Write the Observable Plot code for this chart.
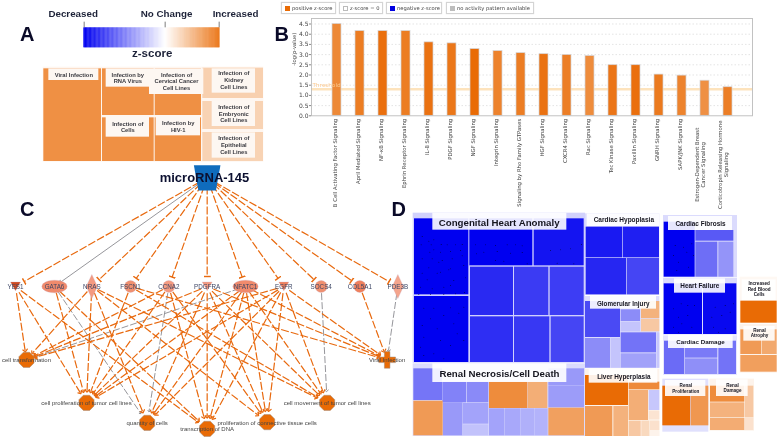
<!DOCTYPE html>
<html>
<head>
<meta charset="utf-8">
<script src="https://cdn.jsdelivr.net/npm/d3@7"></script>
<script src="https://cdn.jsdelivr.net/npm/@observablehq/plot@0.6"></script>
<style>
html,body{margin:0;padding:0;background:#fff;}
#page{position:relative;width:778px;height:438px;overflow:hidden;filter:blur(.3px);font-family:"Liberation Sans",Arial,sans-serif;}
#page svg{position:absolute;overflow:visible;background:none;}
.lg{position:absolute;top:2px;height:12px;border:1px solid #d4d4d4;box-shadow:0 0 1px #ddd;font:5.2px "DejaVu Sans",sans-serif;color:#444;line-height:10px;white-space:nowrap;box-sizing:border-box;}
.lg i{position:absolute;left:3px;top:2.5px;width:5px;height:5px;}
.lg span{position:absolute;top:0;}
</style>
</head>
<body>
<div id="page"></div>
<script>
const bold = '"Liberation Sans",Arial,sans-serif';
const zColor = {type:"linear", domain:[-1,0,1], range:["#0000f0","#ffffff","#e96b05"], clamp:true};

/* ---------- Panel A ---------- */
const zScoreStops = d3.range(-1,1,0.01);
const colorbarTicks = ["Decreased","No Change","Increased"];
const infectionCells = [
 [130,205,303,483,.75],[306,205,461,345,.75],[464,205,603,345,.75],
 [306,352,461,483,.75],[464,352,603,483,.75],
 [607,203,789,294,.32],[607,303,789,387,.3],[607,396,789,483,.3]
];
const infectionLabels = [
 ["Viral Infection",145,205,295,240,220,222],
 ["Infection by\nRNA Virus",317,205,447,260,382,232],
 ["Infection of\nCervical Cancer\nCell Lines",447,205,610,282,528,242],
 ["Infection of\nCells",317,350,447,410,382,379],
 ["Infection by\nHIV-1",467,348,600,406,533,377],
 ["Infection of\nKidney\nCell Lines",635,205,765,278,700,238],
 ["Infection of\nEmbryonic\nCell Lines",635,302,765,378,700,339],
 ["Infection of\nEpithelial\nCell Lines",635,397,765,473,700,433]
];

/* ---------- Panel B ---------- */
const pathways = ["B Cell Activating Factor Signaling","April Mediated Signaling","NF-\u03baB Signaling","Ephrin Receptor Signaling","IL-8 Signaling","PDGF Signaling","NGF Signaling","Integrin Signaling","Signaling by Rho Family GTPases","HGF Signaling","CXCR4 Signaling","Rac Signaling","Tec Kinase Signaling","Paxillin Signaling","GNRH Signaling","SAPK/JNK Signaling","Estrogen-Dependent Breast\nCancer Signaling","Corticotropin Releasing Hormone\nSignaling"];
const logP = [4.5,4.15,4.15,4.15,3.6,3.55,3.27,3.17,3.07,3.02,2.98,2.93,2.48,2.48,2.02,1.97,1.72,1.4];
const pathwayZ = [.8,.88,.97,.88,.95,.92,1,.84,.88,.95,.87,.78,.93,.97,.9,.84,.75,.87];
const legendLabels = ["positive z-score","z-score = 0","negative z-score","no activity pattern available"];
const legendColors = ["#e96b05","#ffffff","#0000e0","#bdbdbd"];
const legendLeft = [281,339,386,446], legendWidth = [55,44,56,88], legendText = [10,10,10,10];

/* ---------- Panel C ---------- */
const targets = [
 ["YES1",45,"tri","#d04a20"],["GATA6",162,"ell","#f08a6c"],["NRAS",274,"dia","#f49a80"],
 ["FSCN1",390,"cir","#f09070"],["CCNA2",505,"cir","#f49a80"],["PDGFRA",620,"tri","#f49a80"],
 ["NFATC1",735,"ell","#f08a6c"],["EGFR",850,"tri","#f0805c"],["SOCS4",962,"cir","#f09070"],
 ["COL5A1",1078,"cir","#f0805c"],["PDE3B",1192,"dia","#f4a48c"]
];
const targetRow = 363;
const outcomes = [
 ["T","cell transformation",78,583,78,"oct"],
 ["P","cell proliferation of tumor cell lines",258,712,258,"oct"],
 ["Q","quantity of cells",440,772,440,"oct"],
 ["D","transcription of DNA",620,790,620,"oct"],
 ["C","proliferation of connective tissue cells",800,770,800,"oct"],
 ["M","cell movement of tumor cell lines",980,712,980,"oct"],
 ["V","Viral Infection",1160,583,1160,"crs"]
];
const orangeLinks = {YES1:"TPD",GATA6:"PD",NRAS:"TPQCM",FSCN1:"PMV",CCNA2:"TPDC",PDGFRA:"TPQDCMV",NFATC1:"PQDCMV",EGFR:"TPQDCMV",COL5A1:"V"};
const greyLinks = {GATA6:"Q",CCNA2:"Q",NFATC1:"T",SOCS4:"M",PDE3B:"V"};
const hub = {name:"microRNA-145",x:620,y:37};

/* ---------- Panel D ---------- */
const congenital = [
 [42,85,205,313,-1],[42,318,205,516,-1],[208,85,397,226,-1],[401,85,551,226,-.92],
 [210,230,339,375,-.84],[342,230,445,375,-.77],[449,230,551,375,-.76],
 [210,379,339,516,-.82],[342,379,448,516,-.78],[452,379,551,516,-.73]
];
const renalNecrosis = [
 [40,535,126,630,-.54],[127,575,198,637,-.49],[200,575,265,637,-.46],[267,575,381,654,.78],
 [382,575,442,654,.55],[445,535,552,587,-.4],[445,588,552,652,-.39],[40,632,128,736,.68],
 [129,637,187,736,-.4],[188,639,265,701,-.36],[188,703,265,736,-.24],[267,655,313,736,-.36],
 [314,655,360,736,-.34],[361,655,402,736,-.31],[403,655,443,736,-.3],[445,653,552,736,.64]
];
const hypoplasia = [[557,110,667,202,-.9],[669,110,777,202,-.88],[557,204,678,313,-.85],[680,204,777,313,-.73]];
const glomerular = [
 [555,333,660,441,-.71],[662,358,720,393,-.45],[662,395,720,424,-.23],[723,333,778,384,.52],
 [723,386,778,424,.37],[555,444,630,533,-.45],[632,444,660,533,-.23],[662,427,768,487,-.55],
 [662,490,768,533,-.37],[770,427,778,533,-.22]
];
const liver = [
 [555,555,684,645,1],[686,575,778,598,.79],[555,648,637,738,.68],[640,648,684,738,.52],
 [686,600,744,690,.55],[746,600,778,660,-.22],[746,662,778,688,.18],[686,692,722,738,.37],
 [724,692,748,738,.26],[750,692,778,720,.2],[766,722,778,738,.08]
];
const fibrosis = [[791,95,884,260,-1],[886,120,1000,152,-.65],[886,155,952,260,-.57],[955,155,1000,260,-.42]];
const failure = [[791,280,906,432,-1],[909,280,1009,432,-.97]];
const damage = [[792,452,853,552,-.58],[855,474,952,503,-.52],[855,505,952,552,-.44],[955,452,1008,552,-.55]];
const redCells = [[1021,332,1130,398,1]];
const atrophy = [[1021,418,1084,492,.68],[1086,418,1130,492,.58],[1021,495,1130,545,.65]];
const proliferation = [[787,587,871,706,1],[873,587,925,706,.7]];
const renalDamage = [[930,587,1033,635,.78],[930,637,1033,682,.52],[930,684,1033,720,.56],[1035,587,1060,682,.37],[1035,684,1060,720,.2]];
const blocks = [
 [38,68,555,518,-.18],[38,520,555,738,-.14],[555,70,778,315,-.14],[555,318,778,534,-.14],
 [555,536,778,738,.08],[789,75,1011,262,-.14],[789,264,1011,434,-.14],[789,436,1011,555,-.1],
 [1019,260,1131,400,.05],[1019,402,1131,548,.08],[787,566,925,725,-.12],[928,566,1062,722,.08]
];
const titlesD = [
 ["Congenital Heart Anomaly",97,68,499,119,296,95,9.7],
 ["Renal Necrosis/Cell Death",97,520,499,576,297,548,9.7],
 ["Cardiac Hypoplasia",560,70,778,108,670,87,6.5],
 ["Glomerular Injury",570,316,768,356,668,338,6.3],
 ["Liver Hyperplasia",566,536,772,578,670,557,6.4],
 ["Cardiac Fibrosis",804,78,996,120,900,100,6.4],
 ["Heart Failure",822,265,975,308,898,286,6.4],
 ["Cardiac Damage",804,434,998,474,900,454,6.2],
 ["Increased\nRed Blood\nCells",1025,268,1127,330,1076,295,4.6],
 ["Renal\nAtrophy",1030,408,1124,452,1077,427,4.6],
 ["Renal\nProliferation",795,570,916,618,856,593,4.6],
 ["Renal\nDamage",948,568,1043,618,996,591,4.6]
];
const specks = [
 [65,138],[85,152],[100,148],[62,163],[92,163],[122,162],[140,163],[165,163],[185,162],[88,185],[100,178],[120,185],[150,183],[180,180],
 [65,205],[95,205],[125,210],[155,205],[185,196],[85,232],[115,215],[145,238],[190,225],[65,248],[110,248],[150,235],[80,268],[120,245],[160,270],[195,262],
 [60,290],[95,295],[130,290],[150,285],[55,312],[90,312],[130,312],[165,310],[192,306],
 [225,163],[255,163],[285,165],[320,163],[345,163],[365,166],[228,190],[250,185],[290,183],[330,188],[365,186],[285,210],[310,212],[380,220],
 [450,180],[480,178],[510,175],[543,162],[470,218],[520,220],
 [70,353],[100,353],[150,352],[190,350],[90,385],[130,375],[175,368],[65,405],[110,415],[160,400],[70,440],[120,450],[170,430],[60,470],[100,490],[150,465],[190,450],[70,495],[130,505],
 [824,165],[849,170],[874,160],[834,215],[819,195],[859,185],[879,195],[829,240],[864,230],
 [842,340],[819,355],[862,345],[882,345],[834,380],[862,375],[819,410],[844,400],[874,410],[834,425],
 [944,350],[974,345],[999,340],[934,380],[964,375],[989,365],[939,410],[974,415],[954,425]
];

/* ---------- helpers ---------- */
const page = document.getElementById("page");
function panel(w,h,left,top,marks){
  const p = Plot.plot({width:w/3,height:h/3,margin:0,
    x:{domain:[0,w],range:[0,w/3],axis:null},
    y:{domain:[0,h],range:[0,h/3],axis:null},
    color:zColor,marks});
  p.style.left=left+"px"; p.style.top=top+"px";
  page.appendChild(p); return p;
}
const cellMark = (rows,o={}) => Plot.rect(rows,{x1:d=>d[0],y1:d=>d[1],x2:d=>d[2],y2:d=>d[3],fill:d=>d[4],...o});
const polygon = pts => ({draw(ctx,size){
  const r=Math.sqrt(size/Math.PI);
  pts.forEach(([a,b],i)=> i?ctx.lineTo(a*r,b*r):ctx.moveTo(a*r,b*r));
  ctx.closePath();
}});
const ring = (n,rx,ry,o=0) => d3.range(n).map(i=>[rx*Math.cos(o+i*2*Math.PI/n),ry*Math.sin(o+i*2*Math.PI/n)]);
const symbols = {
  tri:polygon([[-1,-.9],[1,-.9],[0,.85]]),
  dia:polygon([[0,-2.15],[1,0],[0,2.15],[-1,0]]),
  ell:polygon(ring(24,2,1)),
  oct:polygon(ring(8,1,1,Math.PI/8)),
  crs:polygon([[-.33,-1],[.33,-1],[.33,-.33],[1,-.33],[1,.33],[.33,.33],[.33,1],[-.33,1],[-.33,.33],[-1,.33],[-1,-.33],[-.33,-.33]]),
  hub:polygon([[-1,-.95],[1,-.95],[.66,.95],[-.66,.95]])
};
const sizes = {tri:5,dia:5.6,ell:6.3,cir:6,oct:8.2,crs:8.4,hub:13.3};

/* ---------- draw panel A ---------- */
const barX = d => d<0 ? 495+d*245 : 495+d*163;
panel(810,510,0,0,[
  Plot.rect(zScoreStops,{x1:barX,x2:d=>barX(d+.014),y1:82,y2:142,fill:d=>d+.005}),
  Plot.ruleX([251,494,656],{y1:65,y2:82,stroke:"#444",strokeWidth:.7}),
  Plot.text(colorbarTicks,{x:d=>({Decreased:218,"No Change":498,Increased:705})[d],y:40,text:d=>d,fontSize:9.8,fontWeight:"bold",fontFamily:bold,fill:"#1d2238"}),
  Plot.text(["z-score"],{x:455,y:158,fontSize:11.5,fontWeight:"bold",fontFamily:bold,fill:"#1d2238",text:d=>d}),
  Plot.text(["A"],{x:80,y:101,fontSize:20,fontWeight:"bold",fontFamily:bold,fill:"#0a0a28",text:d=>d}),
  Plot.rect([[128,200,790,485,.06]],{x1:d=>d[0],y1:d=>d[1],x2:d=>d[2],y2:d=>d[3],fill:d=>d[4]}),
  cellMark(infectionCells),
  Plot.rect(infectionLabels,{x1:d=>d[1],y1:d=>d[2],x2:d=>d[3],y2:d=>d[4],fill:"#fdf7f2"}),
  Plot.text(infectionLabels,{x:d=>d[5],y:d=>d[6],text:d=>d[0],fontSize:5.8,fontWeight:"bold",fontFamily:bold,fill:"#3a3a40",lineHeight:1.16})
]);

/* ---------- draw panel B ---------- */
const oneLine = pathways.filter(d=>!d.includes("\n"));
const twoLine = pathways.filter(d=>d.includes("\n"));
const bars = pathways.map((name,i)=>({name,value:logP[i],z:pathwayZ[i]}));
const dv = '"DejaVu Sans",sans-serif';
const B = Plot.plot({
  width:508,height:215,marginLeft:41,marginRight:26,marginTop:18,marginBottom:99.7,
  x:{domain:pathways,padding:.62,insetLeft:3.6,insetRight:2.8,axis:null},
  y:{domain:[0,4.77],axis:null},
  color:zColor,
  marks:[
    Plot.ruleY(d3.range(.5,5,.5),{stroke:"#d8d8d8",strokeWidth:.7,strokeDasharray:"1.5,2"}),
    Plot.ruleY([1.3],{stroke:"#fde3bd",strokeWidth:2.4}),
    Plot.barY(bars,{x:"name",y:"value",fill:"z",stroke:"#d4d4d8",strokeWidth:.7}),
    Plot.text(["Threshold"],{frameAnchor:"left",y:1.49,dx:1,textAnchor:"start",text:d=>d,fontSize:6,fill:"#fbc98f"}),
    Plot.frame({stroke:"#bcbcbc",strokeWidth:.9}),
    Plot.axisY({ticks:d3.range(0,5,.5),tickFormat:d=>d.toFixed(1),tickSize:2,tickPadding:1,fontSize:6,fill:"#444",stroke:"#888",fontFamily:dv,label:null}),
    Plot.text(["-log(p-value)"],{frameAnchor:"left",y:2.45,dx:-17.5,rotate:-90,text:d=>d,fontSize:5.2,fontFamily:dv,fill:"#444"}),
    Plot.text(oneLine,{x:d=>d,frameAnchor:"bottom",dy:3,rotate:-90,textAnchor:"end",text:d=>d,fontSize:5.35,fontFamily:dv,fill:"#444"}),
    Plot.text(twoLine,{x:d=>d,frameAnchor:"bottom",dy:49,rotate:-90,textAnchor:"middle",text:d=>d,lineHeight:1.15,fontSize:5.35,fontFamily:dv,fill:"#444"}),
    Plot.text(["B"],{frameAnchor:"left",y:4,dx:-37,dy:0,text:d=>d,fontSize:20,fontWeight:"bold",fontFamily:bold,fill:"#0a0a28"})
  ]
});
B.style.left="270px"; B.style.top="0px"; page.appendChild(B);
legendLabels.forEach((t,i)=>{
  const d=document.createElement("div"); d.className="lg";
  d.style.left=legendLeft[i]+"px"; d.style.width=legendWidth[i]+"px";
  d.innerHTML=`<i style="background:${legendColors[i]};${i==1?"border:.5px solid #bbb;box-sizing:border-box;":""}"></i><span style="left:${legendText[i]}px">${t}</span>`;
  page.appendChild(d);
});

/* ---------- draw panel C ---------- */
const tPos = Object.fromEntries(targets.map(d=>[d[0],{x:d[1],y:targetRow}]));
const oPos = Object.fromEntries(outcomes.map(d=>[d[0],{x:d[2],y:d[3]}]));
function edge(a,b,t0,t1){
  const dx=b.x-a.x,dy=b.y-a.y,l=Math.hypot(dx,dy);
  return {x1:a.x+dx*t0/l,y1:a.y+dy*t0/l,x2:b.x-dx*t1/l,y2:b.y-dy*t1/l};
}
const expand = links => Object.entries(links).flatMap(([s,ts])=>[...ts].map(t=>edge(tPos[s],oPos[t],20,t==="T"||t==="V"?28:36)));
const hubInhibit = targets.filter(d=>d[0]!=="GATA6").map(d=>edge(hub,tPos[d[0]],26,30));
const hubGrey = [edge(hub,tPos.GATA6,26,22)];
const linkOpts = {x1:"x1",y1:"y1",x2:"x2",y2:"y2"};
const outColor="#e8690e", grey="#8a8a90";
panel(1230,819,0,165,[
  Plot.link(hubGrey,{...linkOpts,stroke:grey,strokeWidth:.9,markerEnd:"arrow"}),
  Plot.link(expand(greyLinks),{...linkOpts,stroke:grey,strokeWidth:.9,strokeDasharray:"7,2",markerEnd:"arrow"}),
  Plot.link(hubInhibit,{...linkOpts,stroke:outColor,strokeWidth:1.2,strokeDasharray:"8,2",markerEnd:"tick"}),
  Plot.link(expand(orangeLinks),{...linkOpts,stroke:outColor,strokeWidth:1.2,strokeDasharray:"8,2",markerEnd:"arrow"}),
  ...["tri","dia","ell","cir"].map(s=>Plot.dot(targets.filter(d=>d[2]===s),{x:d=>d[1],y:targetRow,r:sizes[s],symbol:s==="cir"?"circle":symbols[s],fill:d=>d[3],stroke:"#c9a9c0",strokeWidth:.3})),
  ...["oct","crs"].map(s=>Plot.dot(outcomes.filter(d=>d[5]===s),{x:d=>d[2],y:d=>d[3],r:sizes[s],symbol:symbols[s],fill:"#e96b05",stroke:"#9a8a80",strokeWidth:.5})),
  Plot.dot([hub],{x:"x",y:"y",r:sizes.hub,symbol:symbols.hub,fill:"#0f6cbd"}),
  Plot.text(targets,{x:d=>d[1],y:targetRow,text:d=>d[0],fontSize:6.3,fontFamily:bold,fill:"#3c4564"}),
  Plot.text(outcomes,{x:d=>d[4],y:d=>d[3]+2,text:d=>d[1],fontSize:6,fontFamily:bold,fill:"#444"}),
  Plot.text([hub],{x:612,y:38,text:"name",fontSize:13,fontWeight:"bold",fontFamily:bold,fill:"#0c1030"}),
  Plot.text(["C"],{x:80,y:131,text:d=>d,fontSize:20,fontWeight:"bold",fontFamily:bold,fill:"#0a0a28"}),
  Plot.text(["D"],{x:1195,y:131,text:d=>d,fontSize:20,fontWeight:"bold",fontFamily:bold,fill:"#0a0a28"})
]);

/* ---------- draw panel D ---------- */
panel(1134,744,400,190,[
  cellMark(blocks),
  ...[congenital,renalNecrosis,hypoplasia,glomerular,liver,fibrosis,failure,damage,redCells,atrophy,proliferation,renalDamage].map(c=>cellMark(c)),
  Plot.dot(specks,{x:d=>d[0],y:d=>d[1],r:.45,fill:"#000"}),
  Plot.rect(titlesD,{x1:d=>d[1],y1:d=>d[2],x2:d=>d[3],y2:d=>d[4],fill:"#fff",fillOpacity:.9}),
  Plot.text(titlesD,{x:d=>d[5],y:d=>d[6],text:d=>d[0],fontSize:d=>d[7],fontWeight:"bold",fontFamily:bold,fill:"#15151f",lineHeight:1.2})
]);
</script>
</body>
</html>
